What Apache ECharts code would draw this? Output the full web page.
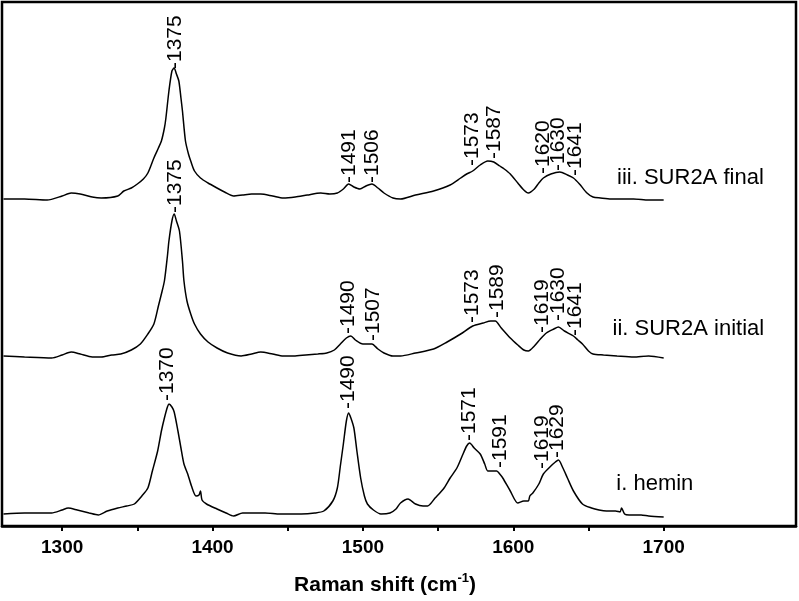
<!DOCTYPE html>
<html>
<head>
<meta charset="utf-8">
<title>Raman spectra</title>
<script src="https://cdn.jsdelivr.net/npm/echarts@6/dist/echarts.min.js"></script>
<style>
  html, body { margin: 0; padding: 0; background: #fff; }
  #main { width: 799px; height: 601px; }
</style>
</head>
<body>
<div id="main"></div>
<script>
// spectra: Raman shift (cm-1) and stacked intensity (arb. units)
var finalShift = [1261, 1275, 1290, 1300, 1306, 1312, 1320, 1326, 1337, 1341, 1346, 1350, 1354, 1357, 1361, 1364, 1366, 1368, 1369, 1371, 1373, 1374.5, 1376, 1377.6, 1379, 1380, 1382, 1384, 1385.5, 1388, 1392, 1397, 1403, 1408, 1414, 1420, 1426, 1432, 1440, 1447, 1455, 1463, 1472, 1478, 1483, 1487, 1490.5, 1494, 1498, 1502, 1506, 1510, 1514, 1520, 1525, 1535, 1547, 1558, 1565, 1569, 1573, 1578, 1583, 1587, 1591, 1594, 1598, 1603, 1607, 1610, 1614, 1617, 1620, 1625, 1631, 1636, 1640, 1644, 1649, 1653, 1658, 1665, 1672, 1680, 1690, 1700];
var finalInt = [327, 327, 326, 330, 333, 332, 329, 328, 330, 335, 338, 342, 347, 353, 368, 378, 385, 398, 408, 435, 455, 458, 452, 445, 428, 415, 385, 372, 365, 355, 348, 343, 338, 334, 330, 331, 332, 332, 330, 328, 329, 331, 333, 332, 333, 337, 342, 339, 337, 340, 342, 338, 333, 328, 327, 331, 335, 341, 348, 352, 355, 361, 365, 364, 360, 357, 352, 343, 336, 333, 337, 343, 348, 352, 354, 351, 348, 342, 333, 329, 328, 327, 327, 327, 326, 326];

var initialShift = [1261, 1275, 1293, 1300, 1306, 1312, 1320, 1326, 1333, 1339, 1346, 1352, 1357, 1361, 1364, 1366, 1368, 1370, 1371, 1373, 1374.5, 1376, 1378, 1380, 1381, 1383, 1385.5, 1388, 1392, 1397, 1403, 1410, 1419, 1426, 1432, 1440, 1447, 1454, 1462, 1470, 1476, 1481, 1485, 1489, 1492, 1495, 1500, 1503, 1506, 1510, 1514, 1520, 1525, 1535, 1547, 1556, 1565, 1573, 1580, 1585, 1588, 1592, 1598, 1603, 1607, 1610, 1614, 1618, 1622, 1627, 1630, 1634, 1640, 1643, 1646, 1650, 1653, 1660, 1669, 1680, 1690, 1700];
var initialInt = [170, 169, 168, 171, 174, 172, 169, 169, 171, 172, 176, 182, 192, 202, 220, 232, 245, 270, 285, 305, 312, 305, 295, 265, 245, 225, 212, 202, 192, 184, 178, 173, 170, 172, 174, 172, 170, 170, 171, 172, 173, 176, 182, 188, 190, 186, 182, 182, 182, 177, 173, 170, 170, 173, 177, 184, 192, 200, 203, 205, 205, 198, 188, 181, 176, 175, 180, 187, 193, 197, 199, 195, 190, 186, 182, 175, 172, 171, 170, 169, 170, 168];

var heminShift = [1261, 1275, 1293, 1300, 1304, 1310, 1318, 1324, 1330, 1337, 1343, 1348, 1353, 1357, 1360, 1363.5, 1366, 1368, 1370, 1371, 1373, 1374.5, 1377, 1379, 1381, 1383.5, 1386, 1389, 1391, 1392, 1393, 1396, 1403, 1409, 1414, 1420, 1425, 1435, 1445, 1459, 1468, 1474, 1480, 1483, 1485, 1487, 1489, 1490.5, 1492, 1494, 1496, 1498.5, 1501, 1503, 1507, 1512, 1518, 1522, 1525, 1530, 1535, 1540, 1543, 1548, 1553.5, 1558, 1562.5, 1566, 1569, 1571, 1574, 1578, 1581, 1583, 1586, 1589, 1591, 1593, 1598, 1603, 1607, 1610, 1611, 1613, 1617, 1620, 1625, 1628, 1630, 1633, 1636, 1640, 1646, 1652, 1657, 1662, 1668, 1671, 1672, 1674, 1677, 1685, 1690, 1700];
var heminInt = [12, 13, 13, 16, 18, 16, 13, 11, 15, 18, 20, 22, 30, 38, 55, 75, 95, 108, 119, 122, 119, 114, 95, 78, 62, 52, 40, 30, 31, 35, 26, 22, 17, 13, 10, 13, 13, 13, 12, 12, 13, 15, 25, 38, 60, 82, 105, 113, 108, 98, 75, 48, 30, 22, 16, 12, 13, 17, 23, 27, 22, 20, 20, 28, 37, 48, 58, 70, 80, 83, 78, 72, 62, 55, 55, 55, 52, 48, 35, 23, 25, 25, 30, 33, 42, 52, 60, 64, 66, 58, 48, 35, 22, 18, 16, 15, 15, 14, 18, 12, 11, 11, 10, 9];

// peak annotations: position of the label's start (shift, height)
var finalPeaks = [1375, 1491, 1506, 1573, 1587, 1620, 1630, 1641];
var finalPeakY = [457, 343, 343, 360, 367, 352, 355, 350];
var initialPeaks = [1375, 1490, 1507, 1573, 1589, 1619, 1630, 1641];
var initialPeakY = [313, 192, 185, 203, 208, 193, 205, 190];
var heminPeaks = [1370, 1490, 1571, 1591, 1619, 1629];
var heminPeakY = [125, 117, 85, 58, 57, 68];

// trace names and where they sit
var traceNames = ['iii. SUR2A final', 'ii. SUR2A initial', 'i. hemin'];
var traceNameAt = [[1669, 348], [1666, 197], [1668.5, 42]];

var tickValues = [1300, 1350, 1400, 1450, 1500, 1550, 1600, 1650, 1700];
var labelValues = [1300, 1400, 1500, 1600, 1700];

var FONT = "'Liberation Sans', Arial, sans-serif";

function zip(xs, ys) {
    return xs.map(function (x, i) { return [x, ys[i]]; });
}

function spectrum(name, xs, ys) {
    return {
        name: name,
        type: 'line',
        data: zip(xs, ys),
        showSymbol: false,
        smooth: 0.25,
        lineStyle: { color: '#000', width: 1.5 },
        silent: true,
        z: 3
    };
}

function peakLabels(xs, ys) {
    return {
        type: 'scatter',
        data: zip(xs, ys),
        symbolSize: 0,
        silent: true,
        itemStyle: { opacity: 1 },
        label: {
            show: true,
            position: 'top',
            distance: 0,
            rotate: 90,
            align: 'left',
            verticalAlign: 'middle',
            fontFamily: FONT,
            fontSize: 21,
            color: '#000',
            opacity: 1,
            formatter: function (p) { return '-' + p.value[0]; }
        },
        z: 4
    };
}

const myChart = echarts.init(document.getElementById('main'), null, { renderer: 'canvas' });

let option = {
    backgroundColor: '#fff',
    animation: false,
    grid: {
        left: 2,
        right: 3,
        top: 2,
        bottom: 75,
        show: true,
        borderColor: '#000',
        borderWidth: 2.5,
        backgroundColor: 'transparent'
    },
    xAxis: {
        type: 'value',
        min: 1260,
        max: 1788,
        name: '{t|Raman shift (cm}{s|-1}{t|)}',
        nameLocation: 'middle',
        nameGap: 46,
        nameTextStyle: {
            padding: [0, 28, 0, 0],
            rich: {
                t: { fontFamily: FONT, fontSize: 21, fontWeight: 'bold', color: '#000', lineHeight: 24, verticalAlign: 'bottom' },
                s: { fontFamily: FONT, fontSize: 13, fontWeight: 'bold', color: '#000', lineHeight: 24, verticalAlign: 'top' }
            }
        },
        axisLine: { show: true, lineStyle: { color: '#000', width: 2.5 } },
        axisTick: {
            show: true,
            customValues: tickValues,
            length: 5,
            lineStyle: { color: '#000', width: 2 }
        },
        axisLabel: {
            customValues: labelValues,
            margin: 12,
            fontFamily: FONT,
            fontSize: 19,
            fontWeight: 'bold',
            color: '#000',
            formatter: function (v) { return String(v); }
        },
        splitLine: { show: false }
    },
    yAxis: {
        type: 'value',
        min: 0,
        max: 524,
        show: false
    },
    series: [
        spectrum('iii. SUR2A final', finalShift, finalInt),
        spectrum('ii. SUR2A initial', initialShift, initialInt),
        spectrum('i. hemin', heminShift, heminInt),
        peakLabels(finalPeaks, finalPeakY),
        peakLabels(initialPeaks, initialPeakY),
        peakLabels(heminPeaks, heminPeakY),
        {
            type: 'scatter',
            data: traceNameAt.map(function (p, i) { return { value: p, name: traceNames[i] }; }),
            symbolSize: 0,
            silent: true,
            itemStyle: { opacity: 1 },
            label: {
                show: true,
                position: 'right',
                distance: 0,
                align: 'left',
                verticalAlign: 'middle',
                fontFamily: FONT,
                fontSize: 22,
                color: '#000',
                opacity: 1,
                formatter: function (p) { return p.name; }
            }
        }
    ]
};
option && myChart.setOption(option);
</script>
</body>
</html>
